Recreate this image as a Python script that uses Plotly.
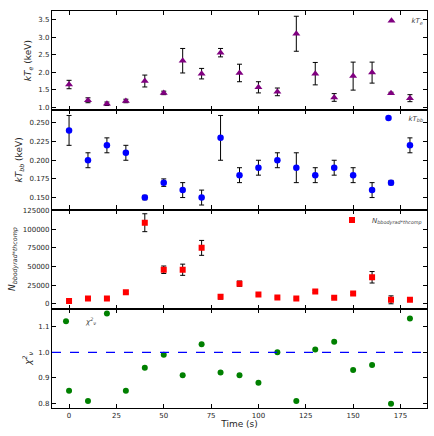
import plotly.graph_objects as go
from plotly.subplots import make_subplots

time = [0, 10, 20, 30, 40, 50, 60, 70, 80, 90, 100, 110, 120, 130, 140, 150, 160, 170, 180]

kte = [1.65, 1.20, 1.10, 1.18, 1.75, 1.41, 2.33, 1.96, 2.56, 1.98, 1.57, 1.44, 3.10, 1.96, 1.28, 1.89, 1.99, 1.40, 1.26]
kte_err = [0.12, 0.07, 0.05, 0.05, 0.17, 0.05, 0.35, 0.15, 0.12, 0.25, 0.16, 0.11, 0.50, 0.32, 0.11, 0.40, 0.30, 0.03, 0.10]

ktbb = [0.240, 0.200, 0.220, 0.210, 0.150, 0.170, 0.160, 0.150, 0.230, 0.180, 0.190, 0.200, 0.190, 0.180, 0.190, 0.180, 0.160, 0.170, 0.220]
ktbb_err = [0.020, 0.010, 0.010, 0.010, 0.003, 0.005, 0.010, 0.010, 0.030, 0.010, 0.010, 0.010, 0.020, 0.010, 0.010, 0.010, 0.010, 0.003, 0.010]

norm = [3600, 7000, 7000, 15500, 108600, 45600, 45600, 74900, 9300, 27000, 12400, 8400, 7000, 16400, 8000, 13700, 35500, 5300, 5300]
norm_err = [1000, 1000, 1000, 1500, 12000, 5000, 7500, 10000, 3000, 3500, 1500, 1000, 1000, 1500, 1000, 1500, 7700, 5300, 1000]

chi2 = [0.850, 0.810, 1.151, 0.850, 0.940, 0.991, 0.911, 1.032, 0.921, 0.911, 0.881, 1.000, 0.810, 1.011, 1.041, 0.931, 0.951, 0.800, 1.132]

x_ticks = [0, 25, 50, 75, 100, 125, 150, 175]

FONT = "DejaVu Sans"
TXT = "#262626"

fig = make_subplots(rows=4, cols=1, shared_xaxes=True, vertical_spacing=0)

def eb(err):
    return dict(type="data", array=err, visible=True, color="black", thickness=1, width=2.5)

fig.add_trace(go.Scatter(x=time, y=kte, mode="markers", error_y=eb(kte_err),
                         marker=dict(symbol="triangle-up", size=7, color="purple"),
                         name="<i>kT<sub>e</sub></i>", legend="legend"), row=1, col=1)
fig.add_trace(go.Scatter(x=time, y=ktbb, mode="markers", error_y=eb(ktbb_err),
                         marker=dict(symbol="circle", size=6.5, color="blue"),
                         name="<i>kT<sub>bb</sub></i>", legend="legend2"), row=2, col=1)
fig.add_trace(go.Scatter(x=time, y=norm, mode="markers", error_y=eb(norm_err),
                         marker=dict(symbol="square", size=6, color="red"),
                         name="<i>N<sub>bbodyrad*thcomp</sub></i>", legend="legend3"), row=3, col=1)
fig.add_trace(go.Scatter(x=time, y=chi2, mode="markers",
                         marker=dict(symbol="circle", size=6, color="green"),
                         name="<i>χ<sup>2</sup><sub>ν</sub></i>", legend="legend4"), row=4, col=1)

fig.add_hline(y=1.0, line=dict(color="blue", dash="dash", width=1.2), row=4, col=1)

axis_common = dict(showline=True, linecolor="black", linewidth=1.2, mirror="ticks",
                   ticks="inside", ticklen=4, tickwidth=1.2, tickcolor="black",
                   showgrid=False, zeroline=False,
                   tickfont=dict(family=FONT, size=7, color=TXT))

for r in range(1, 5):
    fig.update_xaxes(axis_common, range=[-9, 189], tickvals=x_ticks, row=r, col=1)
    fig.update_yaxes(axis_common, row=r, col=1)

fig.update_xaxes(title=dict(text="Time (s)", font=dict(family=FONT, size=9, color=TXT), standoff=2), row=4, col=1)

tfont = dict(family=FONT, size=9, color=TXT)
fig.update_yaxes(range=[0.915, 3.75], tickvals=[1.0, 1.5, 2.0, 2.5, 3.0, 3.5], tickformat=".1f",
                 title=dict(text="<i>kT<sub>e</sub></i> (keV)", font=tfont, standoff=5), row=1, col=1)
fig.update_yaxes(range=[0.134, 0.267], tickvals=[0.150, 0.175, 0.200, 0.225, 0.250], tickformat=".3f",
                 title=dict(text="<i>kT<sub>bb</sub></i> (keV)", font=tfont, standoff=5), row=2, col=1)
fig.update_yaxes(range=[-6650, 126300], tickvals=[0, 25000, 50000, 75000, 100000, 125000], tickformat="d",
                 title=dict(text="<i>N<sub>bbodyrad*thcomp</sub></i>", font=tfont, standoff=5), row=3, col=1)
fig.update_yaxes(range=[0.783, 1.17], tickvals=[0.8, 0.9, 1.0, 1.1], tickformat=".1f",
                 title=dict(text="<i>χ<sup>2</sup><sub>ν</sub></i>", font=tfont, standoff=5), row=4, col=1)

lfont = dict(family=FONT, size=7, color="#444")
def leg(x, y, xa):
    return dict(x=x, y=y, xanchor=xa, yanchor="top", bgcolor="rgba(0,0,0,0)",
                font=lfont, borderwidth=0)

fig.update_layout(
    width=434, height=436,
    margin=dict(l=52, r=6, t=7, b=28),
    paper_bgcolor="white", plot_bgcolor="white",
    showlegend=True,
    legend=leg(1.004, 1.012, "right"),
    legend2=leg(1.004, 0.767, "right"),
    legend3=leg(1.0, 0.51, "right"),
    legend4=leg(-0.016, 0.255, "left"),
)

fig.write_html("out.html")
